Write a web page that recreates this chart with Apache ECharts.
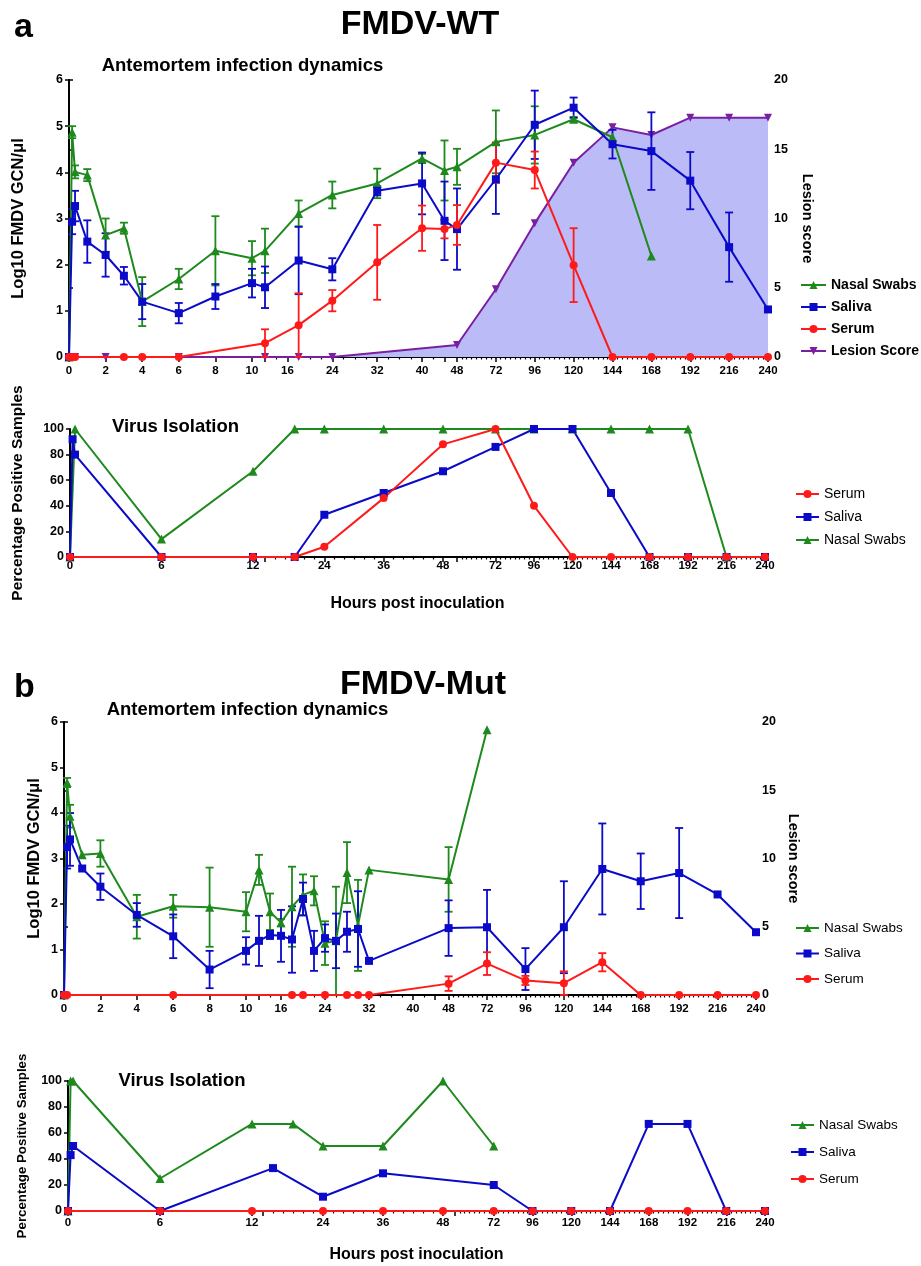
<!DOCTYPE html>
<html><head><meta charset="utf-8">
<script src="https://cdn.jsdelivr.net/npm/echarts@6/dist/echarts.min.js"></script>
<style>html,body{margin:0;padding:0;background:#fff}#c{width:921px;height:1266px}</style>
</head><body><div id="c"></div>
<script>
// ================= DATA =================
// Tick labels (hours post inoculation)
const tickHoursDyn = [0,2,4,6,8,10,16,24,32,40,48,72,96,120,144,168,192,216,240];
const tickHoursVI  = [0,6,12,24,36,48,72,96,120,144,168,192,216,240];

// ---- a: FMDV-WT, antemortem infection dynamics (Log10 GCN/ul, mean & SD) ----
const wtNasalHours  = [0,0.17,0.33,1,2,3,4,6,8,10,12,18,24,32,40,44,48,72,96,120,144,168];
const wtNasal       = [0,4.87,4.01,3.94,2.64,2.79,1.2,1.69,2.30,2.14,2.30,3.11,3.51,3.76,4.30,4.04,4.12,4.66,4.81,5.15,4.76,2.19];
const wtNasalSD     = [0,0.13,0.14,0.13,0.36,0.12,0.53,0.22,0.75,0.37,0.48,0.28,0.29,0.32,0.10,0.65,0.39,0.68,0.62,0.05,0,0];
const wtSalivaHours = [0,0.17,0.33,1,2,3,4,6,8,10,12,18,24,32,40,44,48,72,96,120,144,168,192,216,240];
const wtSaliva      = [0,2.93,3.27,2.50,2.21,1.76,1.20,0.95,1.31,1.60,1.51,2.09,1.90,3.60,3.76,2.95,2.77,3.85,5.03,5.40,4.61,4.46,3.82,2.38,1.03];
const wtSalivaSD    = [0,0.27,0.33,0.46,0.47,0.19,0.38,0.22,0.27,0.31,0.45,0.73,0.24,0.10,0.67,0.85,0.88,0.75,0.74,0.22,0.31,0.84,0.62,0.75,0];
const wtSerumHours  = [0,0.17,0.33,3,4,6,12,18,24,32,40,44,48,72,96,120,144,168,192,216,240];
const wtSerum       = [0,0,0,0,0,0,0.30,0.69,1.22,2.05,2.79,2.77,2.86,4.21,4.05,1.99,0,0,0,0,0];
const wtSerumSD     = [0,0,0,0,0,0,0.30,0.69,0.23,0.81,0.49,0.20,0.43,0.44,0.40,0.80,0,0,0,0,0];
const wtLesionHours = [0,0.33,2,6,12,18,24,48,72,96,120,144,168,192,216,240];
const wtLesion      = [0,0,0,0,0,0,0,0.87,4.89,9.65,14.03,16.58,16.03,17.28,17.28,17.28];

// ---- a: FMDV-WT, virus isolation (% positive samples) ----
const wtVINasalHours  = [0,0.33,6,12,18,24,36,48,72,96,120,144,168,192,216];
const wtVINasal       = [0,100,14,67,100,100,100,100,100,100,100,100,100,100,0];
const wtVISalivaHours = [0,0.17,0.33,6,12,18,24,36,48,72,96,120,144,168,192,216,240];
const wtVISaliva      = [0,92,80,0,0,0,33,50,67,86,100,100,50,0,0,0,0];
const wtVISerumHours  = [0,6,12,18,24,36,48,72,96,120,144,168,192,216,240];
const wtVISerum       = [0,0,0,0,8,46,88,100,40,0,0,0,0,0,0];

// ---- b: FMDV-Mut, antemortem infection dynamics ----
const mutNasalHours  = [0,0.17,0.33,1,2,4,6,8,10,12,14,16,18,20,22,24,26,28,30,32,48,72];
const mutNasal       = [0,4.67,3.93,3.08,3.11,1.72,1.95,1.93,1.83,2.75,1.83,1.59,1.94,2.20,2.29,1.14,1.19,2.69,1.53,2.75,2.54,5.83];
const mutNasalSD     = [0,0.10,0.25,0,0.29,0.48,0.25,0.87,0.43,0.33,0.40,0.08,0.88,0.45,0.32,0.48,1.19,0.67,1.00,0,0.71,0];
const mutSalivaHours = [0,0.17,0.33,1,2,4,6,8,10,12,14,16,18,20,22,24,26,28,30,32,48,72,96,120,144,168,192,216,240];
const mutSaliva      = [0,3.25,3.42,2.78,2.38,1.76,1.29,0.56,0.97,1.19,1.32,1.30,1.22,2.11,0.97,1.25,1.19,1.39,1.45,0.75,1.47,1.49,0.57,1.49,2.77,2.50,2.68,2.21,1.38];
const mutSalivaSD    = [0,0.47,0.58,0,0.29,0.26,0.48,0.41,0.30,0.55,0.09,0.57,0.73,0.36,0.44,0.30,0.60,0.44,0.83,0,0.61,0.82,0.46,1.01,1.00,0.61,0.99,0,0];
const mutSerumHours  = [0,0.17,6,18,20,24,28,30,32,48,72,96,120,144,168,192,216,240];
const mutSerum       = [0,0,0,0,0,0,0,0,0,0.25,0.69,0.32,0.26,0.72,0,0,0,0];
const mutSerumSD     = [0,0,0,0,0,0,0,0,0,0.16,0.25,0.10,0.26,0.20,0,0,0,0];

// ---- b: FMDV-Mut, virus isolation ----
const mutVINasalHours  = [0,0.17,0.33,6,12,18,24,36,48,72];
const mutVINasal       = [0,100,100,25,67,67,50,50,100,50];
const mutVISalivaHours = [0,0.17,0.33,6,14,24,36,72,96,120,144,168,192,216,240];
const mutVISaliva      = [0,43,50,0,33,11,29,20,0,0,0,67,67,0,0];
const mutVISerumHours  = [0,6,12,24,36,48,72,96,120,144,168,192,216,240];
const mutVISerum       = [0,0,0,0,0,0,0,0,0,0,0,0,0,0];

// ================= SCALE / STYLE CONFIG =================
const FONT = '"Liberation Sans", Arial, Helvetica, sans-serif';
const COL = {green:'#1E8A1E', blue:'#0A0AC8', red:'#FF1A1A', purple:'#7B1FA2', area:'#BBBBF7'};

// Segmented (broken) hour axis: [hourStart, hourEnd, axisStart, axisEnd] in axis units
const segA = [[0,10,0,183],[12,44,196,375.5],[48,240,388,699]];
const segB = [[0,12,0,183],[12,48,195,373],[48,240,387,695]];
const segC = [[0,10,0,182],[12,44,195,371],[48,240,384.6,692]];
const segD = [[0,12,0,184],[12,48,195,375],[48,240,387,697]];

function segPos(s,h){ return s[2] + (h - s[0]) * (s[3] - s[2]) / (s[1] - s[0]); }
function makeScale(segs){
  return h => { for (const s of segs) { if (h >= s[0]-1e-9 && h <= s[1]+1e-9) return segPos(s,h); } return null; };
}

const grids = [
  {left:69, top:80,   width:699, height:277},
  {left:70, top:429,  width:695, height:128},
  {left:64, top:722,  width:692, height:273},
  {left:68, top:1081, width:697, height:130}
];

const xAxes = [], minorAxes = [];
function buildX(gi, segs, labelHours, minorSteps, margin){
  const sc = makeScale(segs);
  const w = grids[gi].width;
  const labelPos = labelHours.map(sc);
  const breakPos = [];
  segs.forEach((s,i)=>{ if(i>0) breakPos.push(s[2]); if(i<segs.length-1) breakPos.push(s[3]); });
  const majors = labelPos.concat(breakPos);
  const minors = [];
  minorSteps.forEach(([si,step])=>{
    const s = segs[si];
    for (let h = s[0]; h <= s[1]+1e-9; h += step) {
      const p = segPos(s,h);
      if (!majors.some(m=>Math.abs(m-p)<0.5)) minors.push(p);
    }
  });
  xAxes.push({
    type:'value', gridIndex:gi, min:0, max:w, position:'bottom',
    axisLine:{show:true, onZero:false, lineStyle:{color:'#000', width:2}},
    axisTick:{show:true, customValues:majors, length:5, lineStyle:{color:'#000', width:1.5}},
    axisLabel:{show:true, customValues:labelPos, margin:margin, color:'#000',
      fontFamily:FONT, fontWeight:'bold', fontSize:11.5,
      formatter: v => { const i = labelPos.findIndex(p=>Math.abs(p-v)<1e-6); return i>=0 ? String(labelHours[i]) : ''; }},
    splitLine:{show:false}
  });
  minorAxes.push({
    type:'value', gridIndex:gi, min:0, max:w, position:'bottom',
    axisLine:{show:false}, axisLabel:{show:false}, splitLine:{show:false},
    axisTick:{show:true, customValues:minors, length:2.5, lineStyle:{color:'#000', width:1.2}}
  });
  return sc;
}
const scA = buildX(0, segA, tickHoursDyn, [[1,2],[2,3]], 8);
const scB = buildX(1, segB, tickHoursVI,  [[1,2],[2,3]], 3);
const scC = buildX(2, segC, tickHoursDyn, [[1,2],[2,3]], 8);
const scD = buildX(3, segD, tickHoursVI,  [[1,2],[2,3]], 6);

// Axis names attached to the bottom axes of the virus isolation panels
xAxes[1].name = 'Hours post inoculation'; xAxes[1].nameLocation='middle'; xAxes[1].nameGap=39;
xAxes[1].nameTextStyle = {fontFamily:FONT, fontWeight:'bold', fontSize:16, color:'#000'};
xAxes[3].name = 'Hours post inoculation'; xAxes[3].nameLocation='middle'; xAxes[3].nameGap=36;
xAxes[3].nameTextStyle = {fontFamily:FONT, fontWeight:'bold', fontSize:16, color:'#000'};

function yAx(gi, pos, max, interval, name, nameGap, nameSize, nameRotate, labelSize){
  return {
    type:'value', gridIndex:gi, position:pos, min:0, max:max, interval:interval,
    name:name, nameLocation:'middle', nameGap:nameGap, nameRotate:nameRotate, nameMoveOverlap:false,
    nameTextStyle:{fontFamily:FONT, fontWeight:'bold', fontSize:nameSize, color:'#000'},
    axisLine:{show:true, lineStyle:{color:'#000', width:2}},
    axisTick:{show:true, length:4, lineStyle:{color:'#000', width:1.5}},
    axisLabel:{margin:6, color:'#000', fontFamily:FONT, fontWeight:'bold', fontSize:labelSize},
    splitLine:{show:false}
  };
}
const yAxes = [
  yAx(0,'left', 6,1,'Log10 FMDV GCN/\u03BCl',42,16.5,90,12.5),
  yAx(0,'right',20,5,'Lesion score',31,14.5,-90,12.5),
  yAx(1,'left', 100,20,'Percentage Positive Samples',44,15.5,90,12.5),
  yAx(2,'left', 6,1,'Log10 FMDV GCN/\u03BCl',21,16.5,90,12.5),
  yAx(2,'right',20,5,'Lesion score',29,14.5,-90,12.5),
  yAx(3,'left', 100,20,'Percentage Positive Samples',39,13.3,90,12.5)
];

// ================= SERIES =================
const series = [];
function line(name, color, symbol, hours, vals, sc, xi, yi, extra){
  series.push(Object.assign({
    type:'line', name:name, xAxisIndex:xi, yAxisIndex:yi,
    data: hours.map((h,i)=>[sc(h), vals[i]]),
    symbol:symbol, symbolSize: symbol==='rect'?8:(symbol==='circle'?8:9),
    clip:false, animation:false, z:4,
    lineStyle:{color:color, width:2}, itemStyle:{color:color}
  }, extra||{}));
}
function err(color, hours, vals, sds, sc, xi, yi){
  const data = [];
  hours.forEach((h,i)=>{ if (sds[i] > 0) data.push([sc(h), Math.max(0, vals[i]-sds[i]), vals[i]+sds[i]]); });
  series.push({
    type:'custom', name:'err', xAxisIndex:xi, yAxisIndex:yi, data:data, z:3, silent:true, animation:false,
    encode:{x:0, y:[1,2]},
    renderItem:(p, api)=>{
      const x = api.value(0);
      const lo = api.coord([x, api.value(1)]), hi = api.coord([x, api.value(2)]);
      const w = 4, st = {stroke:color, lineWidth:1.8};
      return {type:'group', children:[
        {type:'line', shape:{x1:lo[0], y1:lo[1], x2:hi[0], y2:hi[1]}, style:st},
        {type:'line', shape:{x1:hi[0]-w, y1:hi[1], x2:hi[0]+w, y2:hi[1]}, style:st},
        {type:'line', shape:{x1:lo[0]-w, y1:lo[1], x2:lo[0]+w, y2:lo[1]}, style:st}
      ]};
    }
  });
}

// a – dynamics
line('Lesion Score', COL.purple, 'triangle', wtLesionHours, wtLesion, scA, 0, 1,
  {symbolRotate:180, symbolSize:8, z:2, areaStyle:{color:COL.area, opacity:1}});
err(COL.green, wtNasalHours, wtNasal, wtNasalSD, scA, 0, 0);
err(COL.blue, wtSalivaHours, wtSaliva, wtSalivaSD, scA, 0, 0);
err(COL.red, wtSerumHours, wtSerum, wtSerumSD, scA, 0, 0);
line('Nasal Swabs', COL.green, 'triangle', wtNasalHours, wtNasal, scA, 0, 0);
line('Saliva', COL.blue, 'rect', wtSalivaHours, wtSaliva, scA, 0, 0);
line('Serum', COL.red, 'circle', wtSerumHours, wtSerum, scA, 0, 0);
// a – virus isolation
line('Nasal Swabs', COL.green, 'triangle', wtVINasalHours, wtVINasal, scB, 1, 2);
line('Saliva', COL.blue, 'rect', wtVISalivaHours, wtVISaliva, scB, 1, 2);
line('Serum', COL.red, 'circle', wtVISerumHours, wtVISerum, scB, 1, 2);
// b – dynamics
err(COL.green, mutNasalHours, mutNasal, mutNasalSD, scC, 2, 3);
err(COL.blue, mutSalivaHours, mutSaliva, mutSalivaSD, scC, 2, 3);
err(COL.red, mutSerumHours, mutSerum, mutSerumSD, scC, 2, 3);
line('Nasal Swabs', COL.green, 'triangle', mutNasalHours, mutNasal, scC, 2, 3);
line('Saliva', COL.blue, 'rect', mutSalivaHours, mutSaliva, scC, 2, 3);
line('Serum', COL.red, 'circle', mutSerumHours, mutSerum, scC, 2, 3);
// b – virus isolation
line('Nasal Swabs', COL.green, 'triangle', mutVINasalHours, mutVINasal, scD, 3, 5);
line('Saliva', COL.blue, 'rect', mutVISalivaHours, mutVISaliva, scD, 3, 5);
line('Serum', COL.red, 'circle', mutVISerumHours, mutVISerum, scD, 3, 5);

// ================= LEGENDS / TEXT =================
function leg(data, left, top, gap, iw, bold, size){
  return {data:data, orient:'vertical', left:left, top:top, padding:0, itemGap:gap, itemWidth:iw, itemHeight:10,
    selectedMode:false,
    textStyle:{fontFamily:FONT, fontSize:size, fontWeight:bold?'bold':'normal', color:'#000'}};
}
const legends = [
  leg(['Nasal Swabs','Saliva','Serum','Lesion Score'], 800, 278, 8, 25, true, 14),
  leg(['Serum','Saliva','Nasal Swabs'], 795, 487, 9, 23, false, 14),
  leg(['Nasal Swabs','Saliva','Serum'], 795, 921, 11.5, 23, false, 13.5),
  leg(['Nasal Swabs','Saliva','Serum'], 790, 1118, 13, 23, false, 13.5)
];

function txt(s, x, y, size, align){
  return {type:'text', silent:true, style:{text:s, x:x, y:y, fill:'#000', align:align||'center', verticalAlign:'top',
    font:'bold '+size+'px '+FONT}};
}
const graphics = [
  txt('a', 14, 11, 34, 'left'),
  txt('FMDV-WT', 420, 8, 34),
  txt('b', 14, 671, 34, 'left'),
  txt('FMDV-Mut', 423, 668, 34),
  txt('Antemortem infection dynamics', 242.5, 56, 18.5),
  txt('Antemortem infection dynamics', 247.5, 700, 18.5),
  txt('Virus Isolation', 175.5, 417, 18.5),
  txt('Virus Isolation', 182, 1071, 18.5)
];

const chart = echarts.init(document.getElementById('c'), null, {renderer:'canvas'});
chart.setOption({
  animation:false,
  backgroundColor:'#fff',
  textStyle:{fontFamily:FONT},
  grid: grids.map(g=>Object.assign({containLabel:false}, g)),
  xAxis: xAxes.concat(minorAxes),
  yAxis: yAxes,
  legend: legends,
  graphic: graphics,
  series: series
});
</script></body></html>
